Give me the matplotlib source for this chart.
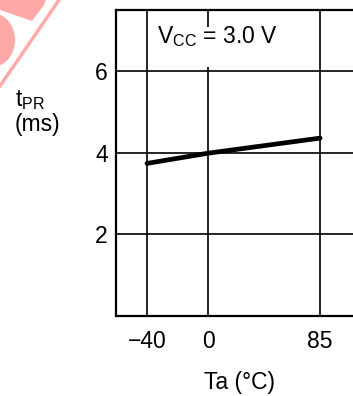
import numpy as np
import matplotlib
matplotlib.use('Agg')
import matplotlib.pyplot as plt
from matplotlib.patches import Rectangle, Ellipse, Polygon
from matplotlib.lines import Line2D

plt.rcParams['font.family'] = ['Liberation Sans', 'DejaVu Sans']

# data
temps = [-40, 0, 85]
t_pr = [3.74, 3.99, 4.36]
x_ticks = [-40, 0, 85]
x_labels = ['\u221240', '0', '85']
y_ticks = [2, 4, 6]


# the temperature axis is not linear in the source: -40..0 is drawn narrower per degree
def fwd(x):
    x = np.asarray(x, dtype=float)
    return np.where(x < 0, x * 61 / 40, x * 112 / 85)


def inv(u):
    u = np.asarray(u, dtype=float)
    return np.where(u < 0, u * 40 / 61, u * 85 / 112)


W, H = 353, 396
fig = plt.figure(figsize=(W / 100, H / 100), dpi=100)
ax = fig.add_axes([116 / W, 80 / H, 0.72, 306 / H])
ax.set_xscale('function', functions=(fwd, inv))
ax.set_xlim(-60.3, 123)
ax.set_ylim(0, 7.5)

ax.set_xticks(x_ticks)
ax.set_xticklabels(x_labels)
ax.set_yticks(y_ticks)
ax.tick_params(length=0, labelsize=16.5)
ax.tick_params(axis='x', pad=10)
ax.tick_params(axis='y', pad=6)

ax.grid(True, color='black', lw=1.2)
ax.set_axisbelow(True)
for s in ['left', 'bottom', 'top']:
    ax.spines[s].set_linewidth(1.6)
ax.spines['right'].set_visible(False)

ax.plot(temps, t_pr, color='black', lw=3.4, solid_capstyle='round', zorder=4)

# white box behind the condition label (breaks the 0 gridline)
ax.add_patch(Rectangle((0.16, 0.814), 0.5, 0.13, transform=ax.transAxes,
                       facecolor='white', edgecolor='none', zorder=2))
fig.text(157 / W, 1 - 37 / H, r'V$\mathregular{_{CC}}$ = 3.0 V', fontsize=16.5,
         ha='left', va='center', zorder=5)

fig.text(15 / W, 1 - 100 / H, r't$\mathregular{_{PR}}$', fontsize=16.5,
         ha='left', va='center')
fig.text(15 / W, 1 - 125 / H, '(ms)', fontsize=16.5, ha='left', va='center')
fig.text(239 / W, 1 - 382 / H, 'Ta (\u00b0C)', fontsize=16.5, ha='center', va='center')

# pale red watermark fragment in the top-left corner
pink = '#ffa8a8'
fig.patches.append(Polygon([(0, 396), (46, 396), (44, 391), (32, 375), (0, 386)],
                           closed=True, transform=None, facecolor=pink, edgecolor='none'))
fig.patches.append(Ellipse((-8, 396 - 40), 46, 54, transform=None,
                           facecolor=pink, edgecolor='none'))
fig.lines.append(Line2D([59, 0], [396, 396 - 86], transform=None, color=pink, lw=2.4))

fig.savefig('out.png', dpi=100)
